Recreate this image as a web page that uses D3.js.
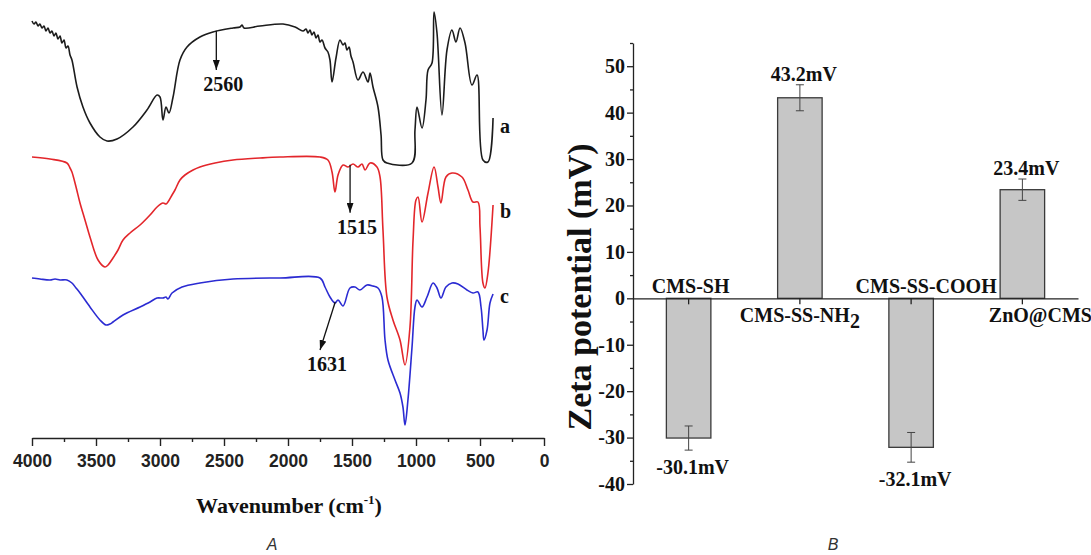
<!DOCTYPE html>
<html>
<head>
<meta charset="utf-8">
<title>FTIR spectra and zeta potential</title>
<script src="https://cdn.jsdelivr.net/npm/d3@7"></script>
<style>
  body { margin: 0; background: #fff; }
</style>
</head>
<body>
<svg width="1091" height="555"></svg>
<script>
// ---------- data ----------
// FTIR spectra, [wavenumber (cm-1), transmittance (a.u.)]
const spectrumA = [[4000,104.75],[3984,104],[3969,104.5],[3953,103.5],[3938,104],[3922,103],[3906,103.5],[3891,102.25],[3875,103],[3859,101.75],[3844,102.25],[3828,101],[3813,101.75],[3797,100.25],[3781,101],[3766,99.25],[3750,100],[3734,98],[3719,98.5],[3703,96.25],[3688,95],[3648,88.25],[3602,83.25],[3547,79.25],[3469,75.75],[3414,74.75],[3336,75.25],[3211,78.25],[3102,82.5],[3023,86.25],[3000,85.75],[2977,80],[2953,83.25],[2930,81.75],[2898,85.75],[2844,95],[2789,98.25],[2688,100.75],[2586,102],[2430,103],[2375,103.25],[2359,103.75],[2344,103],[2219,103.5],[2039,104],[1945,103.25],[1883,102.25],[1859,102.75],[1844,101.75],[1828,102.5],[1813,101.25],[1797,102],[1781,100.5],[1766,101.25],[1750,99.5],[1734,100],[1711,98],[1688,97],[1672,95],[1656,89.5],[1625,95.5],[1594,100],[1570,98.75],[1555,99.25],[1539,97.5],[1523,98.25],[1508,96],[1492,94.5],[1453,90],[1414,92],[1375,89.5],[1359,91.75],[1336,88.25],[1297,83.25],[1273,76.25],[1258,70],[1227,69.25],[1031,69.25],[1008,77.5],[992,83.25],[953,78],[922,85],[906,92.5],[875,94.25],[859,107],[836,101.75],[797,81.25],[758,97.5],[719,102.5],[688,99.5],[656,103],[617,99.25],[563,88.75],[523,91.25],[477,70],[438,69.5],[398,80.5]]
const spectrumB = [[4000,70.75],[3859,70.25],[3727,69.25],[3703,68],[3688,67],[3656,63.25],[3625,59.25],[3586,55],[3547,50.75],[3484,45],[3430,43.25],[3406,43.75],[3367,45.5],[3328,47.5],[3289,50],[3234,51.75],[3156,53.75],[3078,56.25],[3023,58.25],[2977,59.25],[2953,59],[2938,59.5],[2906,61.25],[2883,62.5],[2844,65],[2805,66.25],[2742,67.5],[2688,68.25],[2570,69.25],[2430,70],[2219,70.5],[2063,70.75],[1750,70.75],[1688,70],[1656,67],[1633,62],[1609,66.25],[1570,68.75],[1531,68.25],[1492,69],[1453,68.25],[1422,69],[1398,67.5],[1359,69.25],[1305,68.25],[1281,65.75],[1258,52.5],[1227,35.75],[1180,30],[1125,25],[1086,18.75],[1047,28.25],[1023,50],[1000,60],[984,60.75],[953,54.5],[906,61.75],[859,68.25],[828,63.25],[805,59.25],[766,65.75],[719,66.75],[641,65.75],[594,62.5],[555,59.5],[516,59.5],[500,53.25],[477,39.25],[461,38],[438,41.75],[398,58.75]]
const spectrumC = [[4000,40.5],[3938,40.25],[3859,40],[3820,40.25],[3781,40],[3727,40],[3688,39.25],[3656,38],[3625,36.75],[3547,33.25],[3469,30],[3422,28.75],[3391,29],[3367,29.5],[3289,31.25],[3156,33.25],[3078,34.5],[3023,35.5],[2977,35.5],[2953,35.75],[2938,35.25],[2906,36.75],[2828,38.25],[2688,39.25],[2430,40.25],[2063,40.5],[1750,40.5],[1711,38.25],[1672,35.75],[1633,34.25],[1609,35],[1570,33.5],[1516,38],[1477,38.25],[1438,37.5],[1383,38.75],[1336,38.5],[1297,38],[1266,35.75],[1242,25],[1219,20],[1164,15],[1125,11.75],[1102,8.25],[1086,3.75],[1063,10],[1031,23.25],[1008,33.25],[992,35],[953,33.25],[914,35.75],[867,39.25],[836,38],[805,35.5],[766,38.25],[719,39.25],[672,39],[602,37.5],[555,36.75],[516,37],[492,33.25],[477,27.5],[469,25],[445,27.5],[422,34.25],[398,36.5]]
const spectra = [spectrumA, spectrumB, spectrumC]
const spectrumNames = ['a', 'b', 'c']
const spectrumLabelT = [76.75, 55.5, 34.25]
const wnMajor = [4000, 3500, 3000, 2500, 2000, 1500, 1000, 500, 0]
const wnMinor = [3750, 3250, 2750, 2250, 1750, 1250, 750, 250]
// marked peaks: label, arrow start [wn, T], arrow end [wn, T]
const peakLabels = ['2560', '1515', '1631']
const peakFrom = [[2560, 102.3], [1515, 68.8], [1631, 34.5]]
const peakTo = [[2560, 92.5], [1515, 56.8], [1750, 22.5]]

// zeta potential
const samples = ['CMS-SH', 'CMS-SS-NH2', 'CMS-SS-COOH', 'ZnO@CMS']
const zeta = [-30.1, 43.2, -32.1, 23.4]
const zetaErr = [2.6, 2.8, 3.2, 2.3]
const zetaTicks = [-40, -30, -20, -10, 0, 10, 20, 30, 40, 50]
const zetaMinor = [-35, -25, -15, -5, 5, 15, 25, 35, 45, 55]

// ---------- drawing ----------
const svg = d3.select('svg')
const serif = '"Liberation Serif", "Times New Roman", serif'
const sans = '"Liberation Sans", Arial, sans-serif'
const colors = ['#1c1c1c', '#e3262b', '#2b2bd2']

svg.append('defs').append('marker')
  .attr('id', 'arrow')
  .attr('viewBox', '0 0 10 7')
  .attr('refX', 10).attr('refY', 3.5)
  .attr('markerWidth', 10).attr('markerHeight', 7)
  .attr('markerUnits', 'userSpaceOnUse')
  .attr('orient', 'auto')
  .append('path').attr('d', 'M0,0L10,3.5L0,7Z').attr('fill', '#111')

// panel A
const xA = d3.scaleLinear([4000, 0], [32, 544])
const yA = d3.scaleLinear([0, 110], [440, 0])
const gA = svg.append('g')

const line = d3.line()
  .x(d => xA(d[0]))
  .y(d => yA(d[1]))
  .curve(d3.curveCatmullRom.alpha(0.5))

spectra.forEach((s, i) => {
  gA.append('path')
    .attr('d', line(s))
    .attr('fill', 'none')
    .attr('stroke', colors[i])
    .attr('stroke-width', 1.6)
    .attr('stroke-linejoin', 'round')
  const last = s[s.length - 1]
  gA.append('text')
    .attr('x', xA(last[0]) + 7)
    .attr('y', yA(spectrumLabelT[i]))
    .attr('font-family', serif).attr('font-weight', 'bold').attr('font-size', 20)
    .attr('fill', '#111')
    .text(spectrumNames[i])
})

peakLabels.forEach((lab, i) => {
  gA.append('line')
    .attr('x1', xA(peakFrom[i][0])).attr('y1', yA(peakFrom[i][1]))
    .attr('x2', xA(peakTo[i][0])).attr('y2', yA(peakTo[i][1]))
    .attr('stroke', '#111').attr('stroke-width', 1.3)
    .attr('marker-end', 'url(#arrow)')
  gA.append('text')
    .attr('x', xA(peakTo[i][0]) + 7)
    .attr('y', yA(peakTo[i][1]) + 21)
    .attr('text-anchor', 'middle')
    .attr('font-family', serif).attr('font-weight', 'bold').attr('font-size', 20)
    .attr('fill', '#111')
    .text(lab)
})

const axA = gA.append('g').attr('transform', 'translate(0,438)')
  .call(d3.axisBottom(xA).tickValues(wnMajor).tickSize(8).tickSizeOuter(0).tickPadding(9).tickFormat(d => d))
axA.append('g')
  .call(d3.axisBottom(xA).tickValues(wnMinor).tickSize(4).tickFormat(''))
  .select('.domain').remove()
axA.selectAll('line, path').attr('stroke', '#222').attr('stroke-width', 1.4)
axA.selectAll('text')
  .attr('font-family', sans).attr('font-weight', 'bold').attr('font-size', 17.5).attr('fill', '#222')

const xTitle = gA.append('text')
  .attr('x', 289).attr('y', 513)
  .attr('text-anchor', 'middle')
  .attr('font-family', serif).attr('font-weight', 'bold').attr('font-size', 22)
  .attr('fill', '#111')
xTitle.append('tspan').text('Wavenumber (cm')
xTitle.append('tspan').attr('font-size', 13).attr('dy', -9).text('-1')
xTitle.append('tspan').attr('dy', 9).text(')')

gA.append('text')
  .attr('x', 272).attr('y', 550)
  .attr('text-anchor', 'middle')
  .attr('font-family', sans).attr('font-style', 'italic').attr('font-size', 16)
  .attr('fill', '#333')
  .text('A')

// panel B
const xB = d3.scaleBand(samples, [633, 1078]).paddingInner(0.6).paddingOuter(0.3)
const yB = d3.scaleLinear([-40, 55], [484, 43])
const gB = svg.append('g')
const bars = samples.map((s, i) => ({ name: s, v: zeta[i], e: zetaErr[i] }))

gB.selectAll('rect').data(bars).join('rect')
  .attr('x', d => xB(d.name))
  .attr('width', xB.bandwidth())
  .attr('y', d => yB(Math.max(0, d.v)))
  .attr('height', d => Math.abs(yB(d.v) - yB(0)))
  .attr('fill', '#c6c6c6')
  .attr('stroke', '#3a3a3a')
  .attr('stroke-width', 1.3)

const cx = d => xB(d.name) + xB.bandwidth() / 2
const err = gB.selectAll('g.err').data(bars).join('g').attr('class', 'err')
  .attr('stroke', '#444').attr('stroke-width', 1)
err.append('line').attr('x1', cx).attr('x2', cx)
  .attr('y1', d => yB(d.v + d.e)).attr('y2', d => yB(d.v - d.e))
err.append('line').attr('x1', d => cx(d) - 4).attr('x2', d => cx(d) + 4)
  .attr('y1', d => yB(d.v + d.e)).attr('y2', d => yB(d.v + d.e))
err.append('line').attr('x1', d => cx(d) - 4).attr('x2', d => cx(d) + 4)
  .attr('y1', d => yB(d.v - d.e)).attr('y2', d => yB(d.v - d.e))

// value labels
gB.selectAll('text.val').data(bars).join('text').attr('class', 'val')
  .attr('x', d => cx(d) + 4)
  .attr('y', d => d.v >= 0 ? yB(d.v + d.e) - 4 : yB(d.v - d.e) + 24)
  .attr('text-anchor', 'middle')
  .attr('font-family', serif).attr('font-weight', 'bold').attr('font-size', 20)
  .attr('fill', '#111')
  .text(d => `${d.v}mV`)

// sample names: above the zero line for negative bars, below for positive
const nameShift = { 'CMS-SH': 2, 'CMS-SS-NH2': 0, 'CMS-SS-COOH': 15, 'ZnO@CMS': 18 }
const names = gB.selectAll('text.name').data(bars).join('text').attr('class', 'name')
  .attr('x', d => cx(d) + nameShift[d.name])
  .attr('y', d => d.v < 0 ? yB(0) - 5 : yB(0) + 24)
  .attr('text-anchor', 'middle')
  .attr('font-family', serif).attr('font-weight', 'bold').attr('font-size', 20)
  .attr('fill', '#111')
names.each(function (d) {
  const t = d3.select(this)
  const m = d.name.match(/^(.*H)(\d)$/)
  if (m) {
    t.append('tspan').text(m[1])
    t.append('tspan').attr('dy', 6).text(m[2])
  } else {
    t.text(d.name)
  }
})

// y axis
const axB = gB.append('g').attr('transform', 'translate(633,0)')
  .call(d3.axisLeft(yB).tickValues(zetaTicks).tickSize(6).tickSizeOuter(0).tickPadding(2).tickFormat(d => String(d)))
axB.append('g')
  .call(d3.axisLeft(yB).tickValues(zetaMinor).tickSize(3).tickFormat(''))
  .select('.domain').remove()
axB.selectAll('line, path').attr('stroke', '#222').attr('stroke-width', 1.3)
axB.selectAll('text')
  .attr('font-family', serif).attr('font-weight', 'bold').attr('font-size', 20).attr('fill', '#111')

// zero line with category ticks
const ax0 = gB.append('g').attr('transform', `translate(0,${yB(0)})`)
  .call(d3.axisBottom(xB).tickSize(6).tickSizeOuter(0).tickFormat(''))
ax0.selectAll('line, path').attr('stroke', '#222').attr('stroke-width', 1.3)

gB.append('text')
  .attr('transform', 'translate(591,287) rotate(-90)')
  .attr('text-anchor', 'middle')
  .attr('font-family', serif).attr('font-weight', 'bold').attr('font-size', 34)
  .attr('fill', '#111')
  .text('Zeta potential (mV)')

gB.append('text')
  .attr('x', 833).attr('y', 550)
  .attr('text-anchor', 'middle')
  .attr('font-family', sans).attr('font-style', 'italic').attr('font-size', 16)
  .attr('fill', '#333')
  .text('B')
</script>
</body>
</html>
